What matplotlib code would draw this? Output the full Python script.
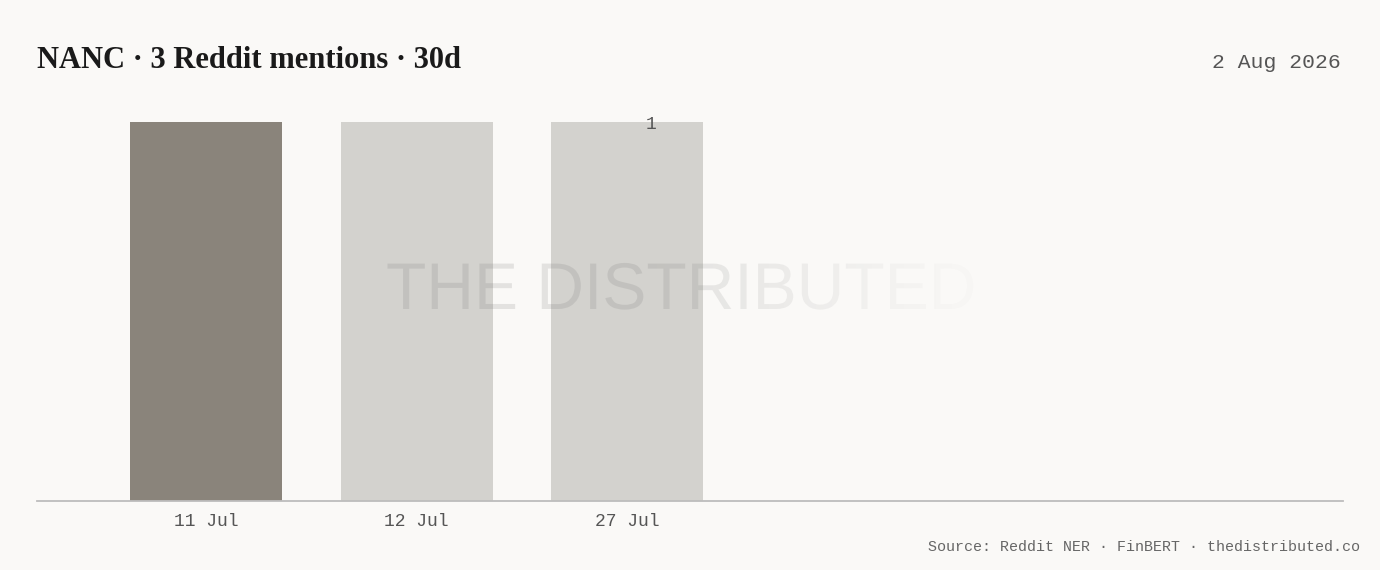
import matplotlib
matplotlib.use("Agg")
import matplotlib.pyplot as plt
import numpy as np
from matplotlib.textpath import TextPath
from matplotlib.patches import PathPatch
from matplotlib.font_manager import FontProperties
from matplotlib.transforms import Affine2D

# data
dates = ["11 Jul", "12 Jul", "27 Jul"]
mentions = [1, 1, 1]
bar_colors = ["#8a847b", "#d3d2ce", "#d3d2ce"]
title = "NANC · 3 Reddit mentions · 30d"
date_txt = "2 Aug 2026"
source_txt = "Source: Reddit NER · FinBERT · thedistributed.co"

bg = "#faf9f7"
mono = "Liberation Mono"

fig = plt.figure(figsize=(13.8, 5.7), dpi=100, facecolor=bg)
W, H = 1380, 570

# main axes: x 37..1343, baseline y=501, bar top y=122
ax = fig.add_axes([37 / W, 1 - 501 / H, (1343 - 37) / W, (501 - 122) / H])
ax.set_facecolor(bg)
x = np.arange(len(dates))
ax.bar(x, mentions, width=0.722, color=bar_colors, zorder=2)
ax.set_xlim(-0.803, 5.40)
ax.set_ylim(0, 1)
for s in ["top", "right", "left"]:
    ax.spines[s].set_visible(False)
ax.spines["bottom"].set_color("#bdbdbd")
ax.spines["bottom"].set_linewidth(1.3)
ax.set_yticks([])
ax.set_xticks(x)
ax.set_xticklabels(dates, fontfamily=mono, fontsize=13, color="#555555")
ax.tick_params(axis="x", length=0, pad=9)

# count label
ax.text(2.114, mentions[2] - 0.006, "1", ha="center", va="center", fontfamily=mono,
        fontsize=13, color="#555555", clip_on=False, zorder=5)

# title / date / source
fig.text(37 / W, 1 - 60 / H, title, ha="left", va="center",
         fontfamily="Liberation Serif", fontweight="bold", fontsize=22, color="#1a1a1a")
fig.text(1341 / W, 1 - 63 / H, date_txt, ha="right", va="center",
         fontfamily=mono, fontsize=15.4, color="#555555")
fig.text(1360 / W, 1 - 547 / H, source_txt, ha="right", va="center",
         fontfamily=mono, fontsize=10.8, color="#666666")

# watermark with fading gradient
ov = fig.add_axes([0, 0, 1, 1], facecolor="none")
ov.set_xlim(0, W)
ov.set_ylim(0, H)
ov.axis("off")
tp = TextPath((0, 0), "THE DISTRIBUTED", size=66,
              prop=FontProperties(family="Liberation Sans"))
tp = Affine2D().translate(386, H - 309).transform_path(tp)
patch = PathPatch(tp, facecolor="none", edgecolor="none")
ov.add_patch(patch)
x0, x1 = 380, 990
grad = np.zeros((2, 400, 4))
grad[..., :3] = 0.45
xs = np.linspace(0, 1, 400)
alpha = np.clip(1.0 - np.clip((xs - 0.45) / 0.5, 0, 1), 0, 1) * 0.15 + 0.02
alpha = np.where(xs > 0.95, 0.02, alpha)
grad[..., 3] = alpha
im = ov.imshow(grad, extent=[x0, x1, H - 320, H - 250], aspect="auto", zorder=10)
im.set_clip_path(patch)
ov.set_xlim(0, W)
ov.set_ylim(0, H)

fig.savefig("out.png", dpi=100, facecolor=bg)
